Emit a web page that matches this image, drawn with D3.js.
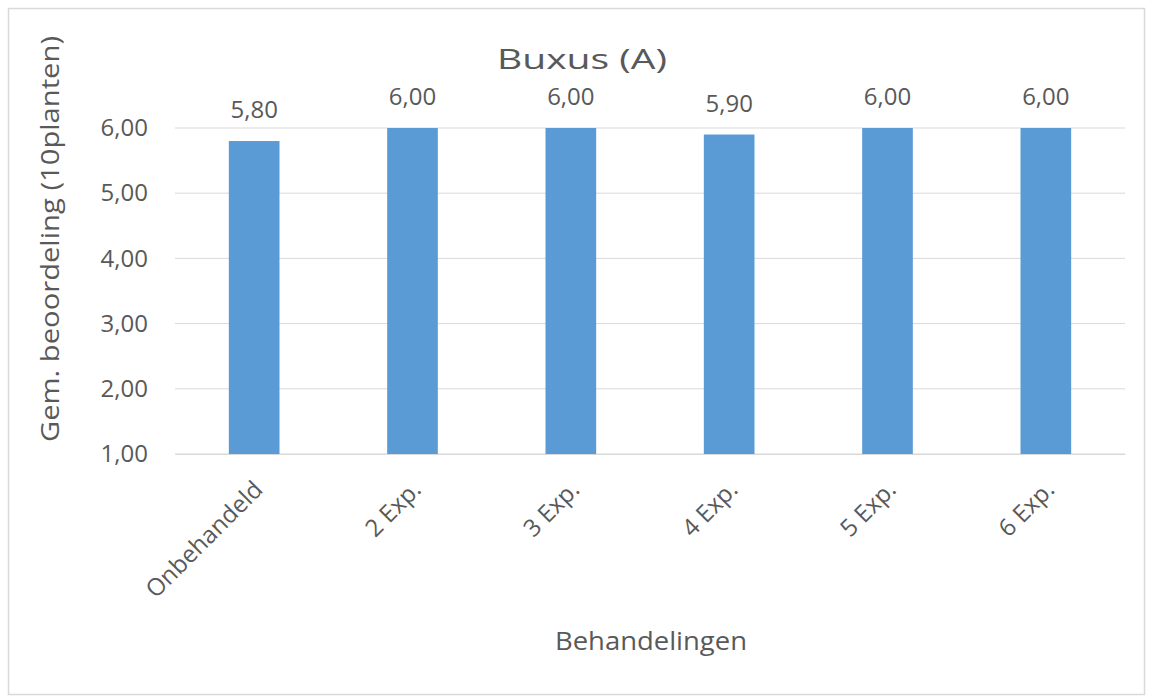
<!DOCTYPE html>
<html>
<head>
<meta charset="utf-8">
<script src="https://cdn.jsdelivr.net/npm/d3@7"></script>
<style>
  html, body { margin: 0; padding: 0; background: #fff; }
  svg { display: block; }
  text { font-family: "Open Sans", sans-serif; fill: #595959; }
</style>
</head>
<body>
<svg id="chart" width="1152" height="697"></svg>
<script>
const title = "Buxus (A)";
const categories = ["Onbehandeld", "2 Exp.", "3 Exp.", "4 Exp.", "5 Exp.", "6 Exp."];
const values = [5.8, 6.0, 6.0, 5.9, 6.0, 6.0];
const yTicks = [1, 2, 3, 4, 5, 6];
const yTitle = "Gem. beoordeling (10planten)";
const xTitle = "Behandelingen";

const fmt = v => v.toFixed(2).replace(".", ",");

const svg = d3.select("#chart");

svg.append("rect")
  .attr("x", 8.5).attr("y", 8.5)
  .attr("width", 1136).attr("height", 686)
  .attr("fill", "#fff").attr("stroke", "#D9D9D9").attr("stroke-width", 1.5);

const plot = { left: 175, right: 1125, top: 128, bottom: 454 };

const x = d3.scaleBand().domain(categories)
  .range([plot.left, plot.right]).paddingInner(0.68).paddingOuter(0.34);
const y = d3.scaleLinear().domain([1, 6]).range([plot.bottom, plot.top]);

// gridlines
svg.append("g").selectAll("line").data(yTicks).join("line")
  .attr("x1", plot.left).attr("x2", plot.right)
  .attr("y1", d => y(d)).attr("y2", d => y(d))
  .attr("stroke", "#D9D9D9").attr("stroke-width", 1);

// y axis labels
const yAxis = d3.axisLeft(y).tickValues(yTicks).tickFormat(fmt).tickSize(0).tickPadding(0);
const gy = svg.append("g").attr("transform", `translate(148,0)`).call(yAxis);
gy.select(".domain").remove();
gy.selectAll("text").style("font-size", "24px").attr("fill", "#595959")
  .style("font-family", "'Open Sans', sans-serif");

// bars
svg.append("g").selectAll("rect").data(values).join("rect")
  .attr("x", (d, i) => x(categories[i]))
  .attr("width", x.bandwidth())
  .attr("y", d => y(d))
  .attr("height", d => y(1) - y(d))
  .attr("fill", "#5B9BD5");

// data labels
svg.append("g").selectAll("text").data(values).join("text")
  .attr("x", (d, i) => x(categories[i]) + x.bandwidth() / 2)
  .attr("y", d => y(d) - 23)
  .attr("text-anchor", "middle")
  .style("font-size", "24px")
  .text(d => fmt(d));

// x axis category labels
const xAxis = d3.axisBottom(x).tickSize(0).tickPadding(0);
const gx = svg.append("g").attr("transform", `translate(0,${plot.bottom})`).call(xAxis);
gx.select(".domain").attr("stroke", "#D9D9D9");
gx.selectAll(".tick text")
  .attr("text-anchor", "end")
  .attr("dy", null)
  .attr("y", 0)
  .attr("transform", "translate(10,37) rotate(-45)")
  .style("font-size", "24px")
  .style("font-family", "'Open Sans', sans-serif")
  .attr("fill", "#595959");

// title
svg.append("text")
  .attr("x", 582).attr("y", 69)
  .attr("text-anchor", "middle")
  .attr("textLength", 170).attr("lengthAdjust", "spacingAndGlyphs")
  .style("font-size", "28px")
  .text(title);

// y title
svg.append("text")
  .attr("transform", "translate(59,239) rotate(-90)")
  .attr("text-anchor", "middle")
  .attr("textLength", 406).attr("lengthAdjust", "spacingAndGlyphs")
  .style("font-size", "26px")
  .text(yTitle);

// x title
svg.append("text")
  .attr("x", 651).attr("y", 650)
  .attr("text-anchor", "middle")
  .attr("textLength", 192).attr("lengthAdjust", "spacingAndGlyphs")
  .style("font-size", "25px")
  .text(xTitle);
</script>
</body>
</html>
